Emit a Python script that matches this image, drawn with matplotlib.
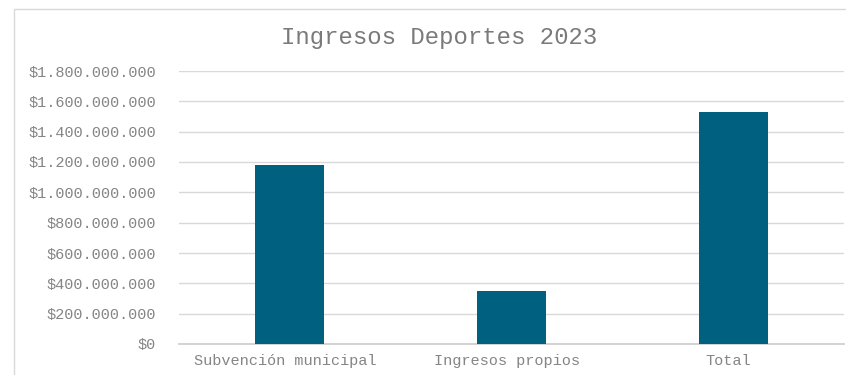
import matplotlib
matplotlib.use('Agg')
import matplotlib.pyplot as plt
from matplotlib.ticker import FuncFormatter, MultipleLocator
from matplotlib.patches import Rectangle
from matplotlib.transforms import ScaledTranslation

# Data
categories = ['Subvención municipal', 'Ingresos propios', 'Total']
values = [1182000000, 350000000, 1532000000]

title = 'Ingresos Deportes 2023'
bar_color = '#00607F'
grid_color = '#D9D9D9'
text_color = '#858585'

plt.rcParams['font.family'] = ['Liberation Mono', 'DejaVu Sans']

fig = plt.figure(figsize=(8.46, 3.75), dpi=100)
ax = fig.add_axes([179 / 846, 1 - 344 / 375, 665 / 846, 273 / 375])

x = range(len(categories))
ax.bar(x, values, width=0.31, color=bar_color, zorder=3)

ax.set_xlim(-0.5, len(categories) - 0.5)
ax.set_ylim(0, 1800000000)
ax.yaxis.set_major_locator(MultipleLocator(200000000))


def money(v, pos):
    return '$' + format(int(round(v)), ',').replace(',', '.')


ax.yaxis.set_major_formatter(FuncFormatter(money))
ax.set_xticks(list(x))
ax.set_xticklabels(categories)

ax.grid(axis='y', color=grid_color, linewidth=1, zorder=0)
for s in ['top', 'right', 'left']:
    ax.spines[s].set_visible(False)
ax.spines['bottom'].set_color('#D0D0D0')
ax.spines['bottom'].set_linewidth(1.3)
ax.tick_params(axis='both', length=0, labelsize=11, colors=text_color)
ax.tick_params(axis='y', pad=16.5)
ax.tick_params(axis='x', pad=7.5)

# excel puts the category labels a few pixels left of the bar centre
shift = ScaledTranslation(-5 / 100, 0, fig.dpi_scale_trans)
for lbl in ax.get_xticklabels():
    lbl.set_transform(lbl.get_transform() + shift)

fig.text(439 / 846, 1 - 37.5 / 375, title, ha='center', va='center',
         fontsize=17.3, color='#7A7A7A')

# outer chart frame
fig.patches.append(Rectangle((14 / 846, -0.1), 1.2, 1 - 9 / 375 + 0.1,
                             transform=fig.transFigure, fill=False,
                             edgecolor=grid_color, linewidth=1))

fig.savefig('out.png', dpi=100)
